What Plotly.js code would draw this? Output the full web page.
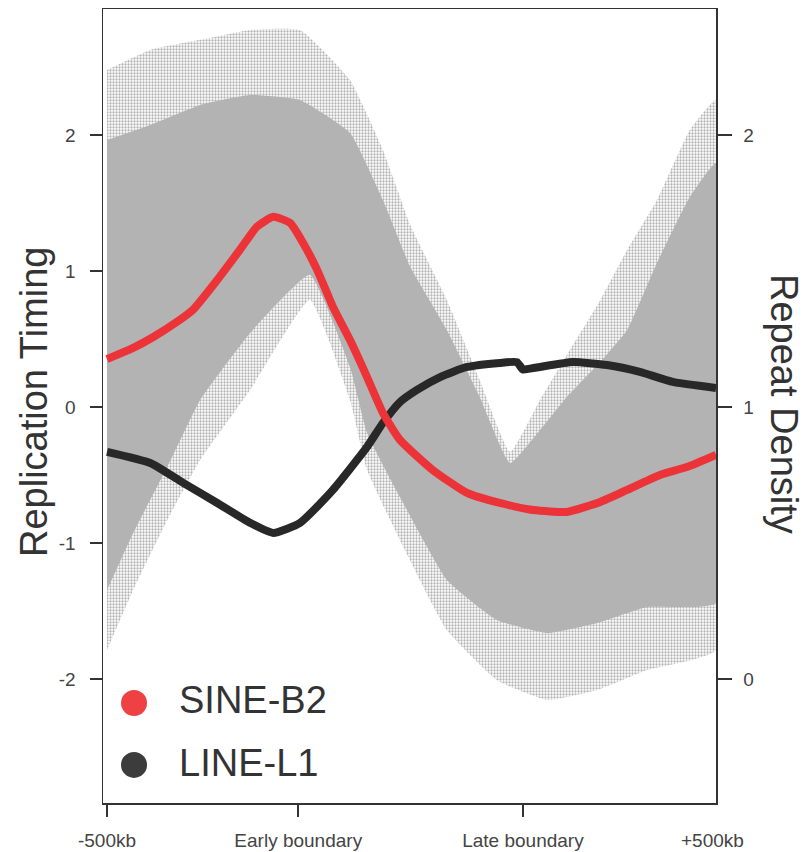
<!DOCTYPE html>
<html>
<head>
<meta charset="utf-8">
<script src="https://cdn.plot.ly/plotly-3.0.1.min.js"></script>
<style>html,body{margin:0;padding:0;background:#fff;}#chart{width:809px;height:852px;}</style>
</head>
<body>
<div id="chart"></div>
<script>
// x position: 0 = -500kb, 1000 = +500kb (scaled meta-domain coordinate)
const xTickVals = [0, 314, 683];
const xTickText = ['-500kb', 'Early boundary', 'Late boundary'];
const xEndLabel = '+500kb';

// Replication timing cloud (left axis): dense core envelope
const coreUpX = [0, 71, 153, 235, 317, 399, 453, 498, 558, 612, 662, 711, 755, 810, 854, 903, 957, 1000];
const coreUpY = [1.963, 2.074, 2.221, 2.294, 2.257, 2.015, 1.522, 1.029, 0.566, 0.074, -0.412, -0.169, 0.074, 0.331, 0.566, 1.059, 1.544, 1.794];
const coreLoX = [0, 43, 99, 153, 235, 333, 399, 427, 481, 558, 640, 723, 805, 887, 1000];
const coreLoY = [-1.346, -0.926, -0.441, 0.051, 0.544, 0.971, 0.294, -0.191, -0.662, -1.272, -1.566, -1.662, -1.588, -1.471, -1.441];
// speckled fringe envelope of the cloud
const fringeUpY = [2.478, 2.625, 2.699, 2.772, 2.772, 2.404, 1.890, 1.338, 0.787, 0.199, -0.331, 0.051, 0.382, 0.787, 1.154, 1.522, 2.037, 2.257];
const fringeLoY = [-1.787, -1.346, -0.831, -0.390, 0.125, 0.787, 0.051, -0.463, -0.978, -1.640, -2.007, -2.154, -2.081, -1.934, -1.787];

// Repeat density (right axis)
const sineX = [0, 43, 76, 115, 141, 181, 218, 246, 273, 301, 322, 345, 371, 399, 427, 453, 481, 535, 591, 645, 700, 755, 810, 854, 908, 952, 1000];
const sineY = [1.176, 1.217, 1.257, 1.313, 1.357, 1.467, 1.577, 1.662, 1.699, 1.676, 1.603, 1.504, 1.368, 1.246, 1.110, 0.978, 0.879, 0.768, 0.684, 0.647, 0.621, 0.614, 0.651, 0.695, 0.750, 0.779, 0.824];
const lineX = [0, 71, 125, 181, 235, 273, 317, 371, 427, 453, 481, 509, 547, 591, 645, 673, 683, 700, 711, 765, 821, 875, 929, 1000];
const lineY = [0.835, 0.794, 0.721, 0.647, 0.574, 0.537, 0.574, 0.695, 0.853, 0.941, 1.018, 1.063, 1.110, 1.147, 1.162, 1.165, 1.138, 1.143, 1.147, 1.165, 1.154, 1.129, 1.092, 1.070];

const seriesNames = ['SINE-B2', 'LINE-L1'];
const seriesColors = ['#ec3338', '#282828'];
const legendColors = ['#ef4044', '#3c3c3c'];

function poly(upX, upY, loX, loY) {
  return {
    x: upX.concat(loX.slice().reverse()),
    y: upY.concat(loY.slice().reverse())
  };
}
const fringePoly = poly(coreUpX, fringeUpY, coreLoX, fringeLoY);
const corePoly = poly(coreUpX, coreUpY, coreLoX, coreLoY);

const traces = [
  {x: fringePoly.x, y: fringePoly.y, type: 'scatter', mode: 'lines', fill: 'toself',
   fillcolor: 'rgba(255,255,255,0)', line: {width: 0, shape: 'spline', smoothing: 0.4},
   fillpattern: {shape: '.', fgcolor: '#b3b3b3', bgcolor: 'rgba(255,255,255,0)', size: 3, solidity: 0.45},
   hoverinfo: 'skip', showlegend: false},
  {x: corePoly.x, y: corePoly.y, type: 'scatter', mode: 'lines', fill: 'toself',
   fillcolor: '#b3b3b3', line: {width: 0, color: '#b3b3b3', shape: 'spline', smoothing: 0.4},
   hoverinfo: 'skip', showlegend: false},
  {x: lineX, y: lineY, yaxis: 'y2', type: 'scatter', mode: 'lines', name: seriesNames[1],
   line: {color: seriesColors[1], width: 8, shape: 'spline', smoothing: 0.5}, showlegend: false},
  {x: sineX, y: sineY, yaxis: 'y2', type: 'scatter', mode: 'lines', name: seriesNames[0],
   line: {color: seriesColors[0], width: 8, shape: 'spline', smoothing: 0.5}, showlegend: false}
];

const axisLine = '#333333';
const tickFont = {family: 'Liberation Sans, Arial, sans-serif', size: 19, color: '#444444'};
const bigFont = {family: 'Liberation Sans, Arial, sans-serif', size: 38, color: '#333333'};

const layout = {
  width: 809, height: 852,
  margin: {l: 103, r: 93, t: 9, b: 49},
  paper_bgcolor: '#ffffff', plot_bgcolor: '#ffffff',
  showlegend: false,
  xaxis: {
    range: [-6.6, 1000], tickmode: 'array', tickvals: xTickVals, ticktext: xTickText,
    ticks: 'outside', ticklen: 12, tickwidth: 1.5, tickcolor: axisLine,
    showline: true, linecolor: axisLine, linewidth: 1.5, mirror: true,
    showgrid: false, zeroline: false, tickfont: tickFont, ticklabelstandoff: 8
  },
  yaxis: {
    range: [-2.912, 2.926], tickmode: 'array', tickvals: [-2, -1, 0, 1, 2], ticktext: ['-2', '-1', '0', '1', '2'],
    ticks: 'outside', ticklen: 12, tickwidth: 1.5, tickcolor: axisLine,
    showline: true, linecolor: axisLine, linewidth: 1.5,
    showgrid: false, zeroline: false, tickfont: tickFont, ticklabelstandoff: 10
  },
  yaxis2: {
    overlaying: 'y', side: 'right',
    range: [-0.456, 2.463], tickmode: 'array', tickvals: [0, 1, 2], ticktext: ['0', '1', '2'],
    ticks: 'outside', ticklen: 14, tickwidth: 1.5, tickcolor: axisLine,
    showline: true, linecolor: axisLine, linewidth: 1.5,
    showgrid: false, zeroline: false, tickfont: tickFont, ticklabelstandoff: 8
  },
  shapes: [
    {type: 'circle', xref: 'paper', yref: 'paper', xsizemode: 'pixel', ysizemode: 'pixel',
     xanchor: 0.0506, yanchor: 0.126, x0: -13, x1: 13, y0: -13, y1: 13,
     fillcolor: legendColors[0], line: {width: 0}},
    {type: 'circle', xref: 'paper', yref: 'paper', xsizemode: 'pixel', ysizemode: 'pixel',
     xanchor: 0.0506, yanchor: 0.048, x0: -13, x1: 13, y0: -13, y1: 13,
     fillcolor: legendColors[1], line: {width: 0}}
  ],
  annotations: [
    {text: seriesNames[0], xref: 'paper', yref: 'paper', x: 0.1207, y: 0.1297, xanchor: 'left', yanchor: 'middle',
     showarrow: false, font: bigFont},
    {text: seriesNames[1], xref: 'paper', yref: 'paper', x: 0.1207, y: 0.0504, xanchor: 'left', yanchor: 'middle',
     showarrow: false, font: bigFont},
    {text: 'Replication Timing', xref: 'paper', yref: 'paper', x: -0.1126, y: 0.505, xanchor: 'center', yanchor: 'middle',
     textangle: -90, showarrow: false, font: bigFont},
    {text: 'Repeat Density', xref: 'paper', yref: 'paper', x: 1.111, y: 0.5025, xanchor: 'center', yanchor: 'middle',
     textangle: 90, showarrow: false, font: bigFont},
    {text: xEndLabel, xref: 'paper', yref: 'paper', x: 0.995, y: -0.0466, xanchor: 'center', yanchor: 'middle',
     showarrow: false, font: tickFont}
  ]
};

Plotly.newPlot('chart', traces, layout, {displayModeBar: false, staticPlot: true});
</script>
</body>
</html>
